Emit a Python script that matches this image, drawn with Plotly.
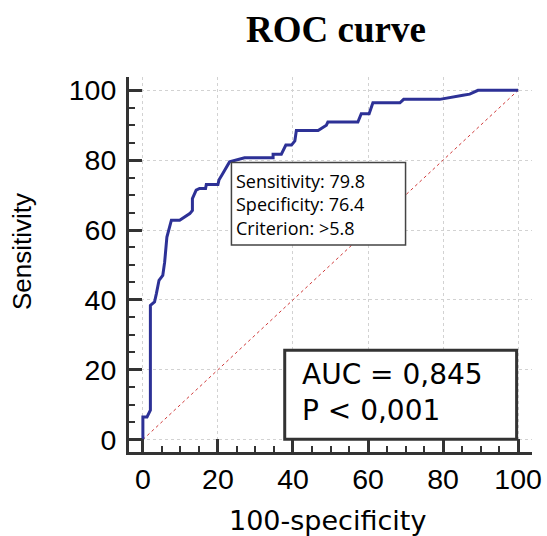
import plotly.graph_objects as go

# ROC curve points (100-specificity, sensitivity)
fpr = [0, 0, 1.1, 2.0, 2.0, 3.1, 3.6, 4.3, 5.3, 5.8, 6.4, 7.6, 9.8, 12.5, 13.2, 13.2,
       14.2, 15.1, 16.7, 16.9, 20.0, 20.3, 21.3, 23.1, 27.1, 34.7, 34.7, 36.9, 38.1,
       39.6, 40.5, 40.9, 46.7, 48.9, 49.3, 57.3, 58.2, 60.3, 61.3, 68.5, 69.5, 79.1,
       85.3, 87.1, 89.3, 100]
tpr = [0, 6.5, 6.5, 8.4, 38.4, 39.4, 41.8, 45.6, 47.0, 50.8, 58.0, 62.8, 62.8, 64.7,
       65.6, 69.0, 71.4, 71.9, 71.9, 73.0, 73.0, 74.4, 76.2, 79.5, 80.7, 80.7, 81.7,
       81.7, 84.3, 84.3, 85.5, 88.5, 88.5, 90.0, 90.9, 90.9, 93.3, 93.3, 96.4, 96.4,
       97.4, 97.4, 98.6, 98.9, 100, 100]

diag_x = [0, 100]
diag_y = [0, 100]

tick_vals = [0, 20, 40, 60, 80, 100]
tick_text = ["0", "20", "40", "60", "80", "100"]

sensitivity = 79.8
specificity = 76.4
criterion = ">5.8"
auc_text = "0,845"
p_text = "0,001"

title_text = "ROC curve"
x_title = "100-specificity"
y_title = "Sensitivity"

AX = "#333333"
W, H = 547, 536
L, R, T, B = 129, 15, 77, 84

fig = go.Figure()
fig.add_trace(go.Scatter(x=diag_x, y=diag_y, mode="lines",
                         line=dict(color="#d03a3a", width=1, dash="dot"),
                         hoverinfo="skip", showlegend=False))
fig.add_trace(go.Scatter(x=fpr, y=tpr, mode="lines",
                         line=dict(color="#2d3196", width=3),
                         showlegend=False))

axis_common = dict(
    tickmode="array", tickvals=tick_vals, ticktext=tick_text,
    showline=True, linecolor=AX, linewidth=3,
    ticks="inside", ticklen=13, tickwidth=3, tickcolor=AX,
    minor=dict(ticks="inside", ticklen=6, tickwidth=2, tickcolor=AX,
               dtick=5, tick0=0, showgrid=False),
    showgrid=True, gridcolor="#d2d2d2", gridwidth=1, griddash="dot",
    zeroline=False, mirror=False,
    tickfont=dict(family="Liberation Sans, Arial", size=28.5, color="black"),
    fixedrange=True,
)
fig.update_xaxes(range=[-3.7, 103.7], ticklabelstandoff=0, **axis_common)
fig.update_yaxes(range=[-3.55, 103.8], ticklabelstandoff=4, **axis_common)

# Criterion box
crit_x = 100 - specificity
fig.add_shape(type="rect", xref="x", yref="y", x0=crit_x, x1=70.0, y0=55.7, y1=79.3,
              line=dict(color="#444444", width=1.5), fillcolor="white", layer="above")
fig.add_annotation(xref="x", yref="y", x=24.3, y=67.4, xanchor="left", yanchor="middle",
                   align="left", showarrow=False,
                   text=f"Sensitivity: {sensitivity}<br>Specificity: {specificity}<br>Criterion: {criterion.replace('>', '&gt;')}",
                   font=dict(family="Open Sans", size=18, color="black"))

# AUC box
fig.add_shape(type="rect", xref="x", yref="y", x0=37.8, x1=99.6, y0=0.1, y1=25.6,
              line=dict(color=AX, width=3), fillcolor="white", layer="above")
fig.add_annotation(xref="x", yref="y", x=41.8, y=13.4, xanchor="left", yanchor="middle",
                   align="left", showarrow=False,
                   text=f"AUC = {auc_text}<br>P &lt; {p_text}",
                   font=dict(family="DejaVu Sans", size=28, color="black"))

# Axis titles
pw = W - L - R
ph = H - T - B
fig.add_annotation(xref="paper", yref="paper", x=(327.5 - L) / pw, y=(H - B - 520.5) / ph,
                   xanchor="center", yanchor="middle", showarrow=False, text=x_title,
                   font=dict(family="DejaVu Sans", size=27, color="black"))
fig.add_annotation(xref="paper", yref="paper", x=(22 - L) / pw, y=(H - B - 252) / ph,
                   xanchor="center", yanchor="middle", showarrow=False, text=y_title,
                   textangle=-90,
                   font=dict(family="Liberation Sans, Arial", size=26, color="black"))

fig.update_layout(
    width=W, height=H,
    margin=dict(l=L, r=R, t=T, b=B, autoexpand=False),
    paper_bgcolor="white", plot_bgcolor="white",
    title=dict(text=title_text, x=336 / W, xanchor="center", y=1 - 29 / H, yanchor="middle",
               xref="container", yref="container",
               font=dict(family="Liberation Serif, Times New Roman", size=37, color="black",
                         weight="bold")),
    showlegend=False,
)

fig.write_html("out.html", config={"displayModeBar": False},
               post_script="document.body.style.margin='0px';document.body.style.overflow='hidden';")
